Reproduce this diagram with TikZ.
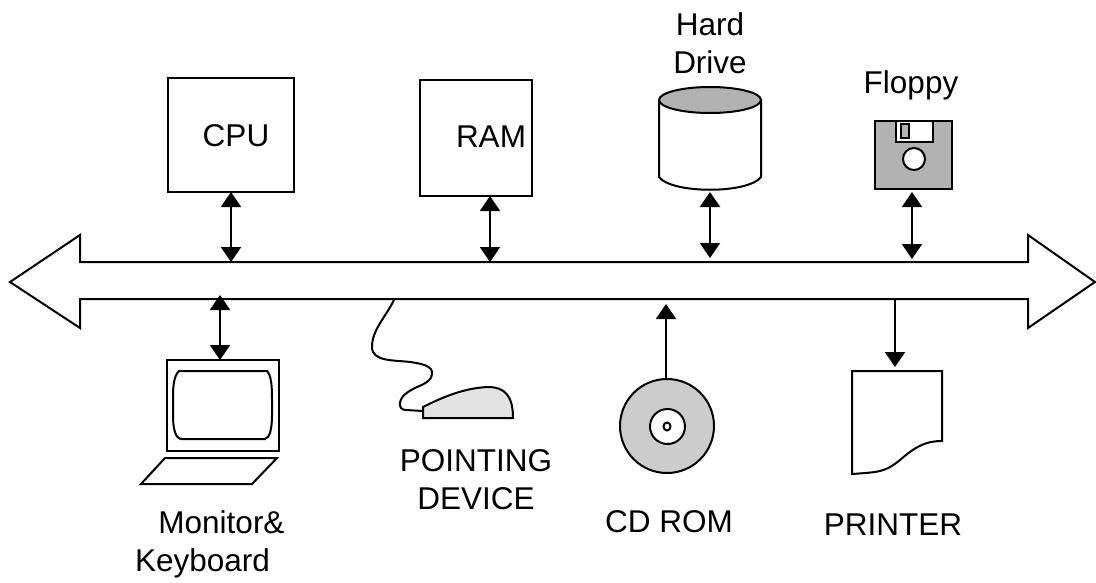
\documentclass[tikz,border=0pt]{standalone}
\usepackage{fontspec}
\setmainfont{Liberation Sans}
\usetikzlibrary{arrows.meta,shapes.geometric}
\definecolor{diskgray}{gray}{0.70}
\definecolor{cdgray}{gray}{0.80}
\definecolor{mousegray}{gray}{0.89}
\tikzset{
	line/.style={draw=black, line width=2pt, line join=miter},
	devtext/.style={font=\fontsize{31.5}{38}\selectfont, align=center, inner sep=0pt},
	link/.style={line width=2pt, -{Triangle[length=15pt,width=20pt]}},
	duplex/.style={line width=2pt, {Triangle[length=15pt,width=20pt]}-{Triangle[length=15pt,width=20pt]}}
}
\begin{document}
\begin{tikzpicture}[x=1pt, y=-1pt]
	\useasboundingbox (0,0) rectangle (1096,582);

	% Bus
	\draw[line] (10,282) -- (80,235) -- (80,262) -- (1028,262) -- (1028,235) -- (1095,282)
		-- (1028,328) -- (1028,299) -- (80,299) -- (80,328) -- cycle;

	% Upper row
	\node[line, rectangle, minimum width=126pt, minimum height=114pt] (cpu) at (231,135) {};
	\node[line, rectangle, minimum width=112pt, minimum height=116pt] (ram) at (476,138) {};
	\node[devtext] (cpulabel) at (236,136) {CPU};
	\node[devtext] (ramlabel) at (491,137) {RAM};
	\node[devtext] (hardlabel) at (710,43) {Hard\\Drive};
	\node[devtext] (floppylabel) at (911,85) {Floppy};

	% Hard drive
	\draw[line, fill=white] (659,100) -- (659,177) .. controls (672,194) and (748,194) .. (761,177) -- (761,100) -- cycle;
	\draw[line, fill=diskgray] (710,100) ellipse (51pt and 13pt);
	\coordinate (hdd) at (710,192);

	% Floppy
	\draw[line, fill=diskgray] (875,121) rectangle (952,189);
	\draw[line, fill=white, line width=1.5pt] (896,121) rectangle (933,142);
	\draw[line, fill=diskgray, line width=1.5pt] (901,124) rectangle (909,138);
	\draw[line, fill=white] (914,159) circle (11pt);
	\coordinate (floppy) at (912,192);

	% Lower row
	\draw[line] (167,360) rectangle (279,451);
	\draw[line] (179,371) .. controls (174,376) and (173,385) .. (173,398) -- (173,415)
		.. controls (173,428) and (175,439) .. (182,439) -- (265,439)
		.. controls (270,438) and (272,428) .. (272,415) -- (272,398)
		.. controls (272,385) and (271,375) .. (267,371) -- cycle;
	\draw[line] (165,458) -- (277,458) -- (252,484) -- (141,484) -- cycle;
	\coordinate (monitor) at (220,360);

	% Mouse
	\draw[line, fill=mousegray] (423,407) .. controls (445,396) and (465,388) .. (488,387)
		.. controls (505,387) and (513,396) .. (513,418) -- (423,418) -- cycle;
	\draw[line] (394,300) .. controls (385,318) and (372,330) .. (372,347)
		.. controls (372,362) and (395,360) .. (410,362)
		.. controls (425,364) and (433,367) .. (432,374)
		.. controls (431,384) and (418,385) .. (408,392)
		.. controls (398,398) and (397,410) .. (406,410) -- (423,411);

	% CD
	\node[line, circle, fill=cdgray, minimum size=94pt, inner sep=0pt] (cd) at (667,426) {};
	\node[line, circle, fill=white, minimum size=35pt, inner sep=0pt] (cdhub) at (667.500,426.500) {};
	\node[line, ellipse, fill=white, minimum width=7pt, minimum height=8pt, inner sep=0pt] (cdhole) at (667,426.500) {};

	% Printer
	\draw[line] (852,371) -- (942,371) -- (942,441) .. controls (925,441) and (915,447) .. (900,460)
		.. controls (885,472) and (880,472) .. (852,474) -- cycle;
	\coordinate (printer) at (895,367);

	% Labels
	\node[devtext] (monitorlabel) at (212,544) {\hspace*{19pt}Monitor\&\\Keyboard\hspace*{19pt}};
	\node[devtext] (mouselabel) at (476,480) {POINTING\\DEVICE};
	\node[devtext] (cdlabel) at (669,522) {CD ROM};
	\node[devtext] (printerlabel) at (893,525) {PRINTER};

	% Links
	\coordinate (buscpu) at (231,262);
	\coordinate (busram) at (490,262);
	\coordinate (bushdd) at (710,258);
	\coordinate (busfloppy) at (912,259);
	\coordinate (busmonitor) at (220,295);
	\coordinate (buscd) at (666,304);
	\coordinate (busprinter) at (895,299);
	\coordinate (cdtop) at (666,380);
	\coordinate (cpubase) at (231,192);
	\coordinate (rambase) at (490,196);
	\draw[duplex] (cpubase) -- (buscpu);
	\draw[duplex] (rambase) -- (busram);
	\draw[duplex] (hdd) -- (bushdd);
	\draw[duplex] (floppy) -- (busfloppy);
	\draw[duplex] (monitor) -- (busmonitor);
	\draw[link] (cdtop) -- (buscd);
	\draw[link] (busprinter) -- (printer);
\end{tikzpicture}
\end{document}
